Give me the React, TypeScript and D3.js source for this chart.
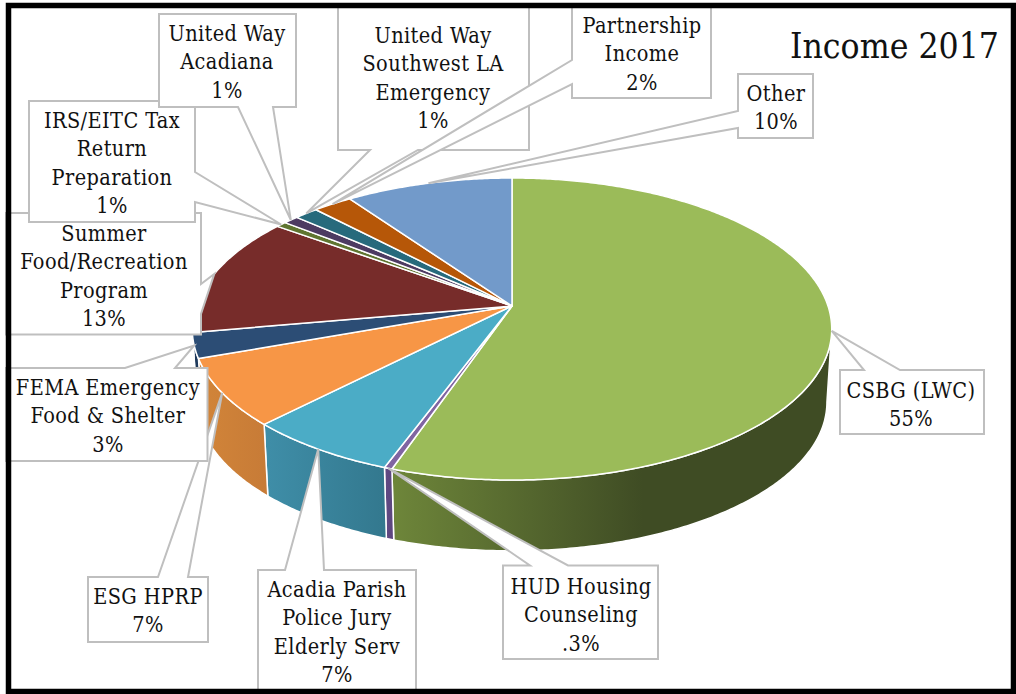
import React, { useEffect, useRef } from "react";
import * as d3 from "d3";

// the labels only give rounded numbers
const categories = [
  "CSBG (LWC)",
  "HUD Housing Counseling",
  "Acadia Parish Police Jury Elderly Serv",
  "ESG HPRP",
  "FEMA Emergency Food & Shelter",
  "Summer Food/Recreation Program",
  "IRS/EITC Tax Return Preparation",
  "United Way Acadiana",
  "United Way Southwest LA Emergency",
  "Partnership Income",
  "Other",
];
const values = [55.3, 0.35, 6.7, 7.2, 2.7, 12.8, 0.6, 0.9, 1.4, 2.3, 9.8];
const percentLabels = ["55%", ".3%", "7%", "7%", "3%", "13%", "1%", "1%", "1%", "2%", "10%"];
const nameLines = [
  ["CSBG (LWC)"],
  ["HUD Housing", "Counseling"],
  ["Acadia Parish", "Police Jury", "Elderly Serv"],
  ["ESG HPRP"],
  ["FEMA Emergency", "Food & Shelter"],
  ["Summer", "Food/Recreation", "Program"],
  ["IRS/EITC Tax", "Return", "Preparation"],
  ["United Way", "Acadiana"],
  ["United Way", "Southwest LA", "Emergency"],
  ["Partnership", "Income"],
  ["Other"],
];
const topColors = ["#9BBB59", "#8064A2", "#4BACC6", "#F79646", "#2C4D75", "#772C2A", "#5F7530", "#4D3B62", "#276A7C", "#B65708", "#729ACA"];
// left/right colours of the side wall (only the front slices show one)
const wallLeft = ["#6E863A", "#614A84", "#3F8EA8", "#D28539", "#1F3A5C", "#772C2A", "#5F7530", "#4D3B62", "#276A7C", "#B65708", "#729ACA"];
const wallRight = ["#3F4C24", "#5C467E", "#33788E", "#C77B37", "#1F3A5C", "#772C2A", "#5F7530", "#4D3B62", "#276A7C", "#B65708", "#729ACA"];
const wallDarkStop = [0.57, 1, 1, 1, 1, 1, 1, 1, 1, 1, 1];

// callout boxes, in the same order as categories
type Callout = {
  x0: number; y0: number; x1: number; y1: number;
  side: "top" | "bottom" | "left" | "right";
  base: [number, number]; // where the pointer leaves the box
  cx: number; baseline: number;
};
const callouts: Callout[] = [
  { x0: 840, y0: 370, x1: 984, y1: 434, side: "top", base: [864, 900], cx: 911, baseline: 398 },
  { x0: 503, y0: 565.5, x1: 658, y1: 659, side: "top", base: [530, 568], cx: 581, baseline: 594 },
  { x0: 258, y0: 570, x1: 416, y1: 692, side: "top", base: [285, 324], cx: 337, baseline: 597 },
  { x0: 88, y0: 577, x1: 208, y1: 642, side: "top", base: [158, 188], cx: 148, baseline: 604 },
  { x0: 6, y0: 368, x1: 207.5, y1: 461, side: "top", base: [125, 175], cx: 108, baseline: 395 },
  { x0: 6, y0: 213, x1: 201, y1: 334.5, side: "right", base: [284, 314], cx: 104, baseline: 241 },
  { x0: 29, y0: 101, x1: 195, y1: 222, side: "right", base: [172, 202], cx: 112, baseline: 128 },
  { x0: 159, y0: 14, x1: 296, y1: 107, side: "bottom", base: [238, 273], cx: 227, baseline: 41 },
  { x0: 338, y0: 4, x1: 529, y1: 150, side: "bottom", base: [370, 418], cx: 433, baseline: 43 },
  { x0: 572, y0: 4, x1: 711, y1: 98, side: "left", base: [60, 84], cx: 642, baseline: 33 },
  { x0: 738, y0: 74, x1: 813, y1: 138, side: "left", base: [111, 128], cx: 776, baseline: 101 },
];

const width = 1016;
const height = 694;
const apex = { x: 512, y: 306 };
const lineHeight = 28.4;
const labelFont = "'DejaVu Serif Condensed', 'DejaVu Serif', serif";

// the pie is tilted away from the viewer, so the plate goes through a perspective
// projection: near rim 174px below the apex, far rim only 128px above it
const persp = 0.1523;
const scaleY = 147.5;
const scaleX = 316;
const wallDrop = 73.5;
const wallShrink = 0.985;
const rightEdge = Math.acos(-persp); // where the rim turns away, seen from above
const leftEdge = Math.PI * 2 - rightEdge;

const topPoint = (angle: number): [number, number] => {
  const u = Math.sin(angle);
  const v = -Math.cos(angle);
  const w = 1 - persp * v;
  return [apex.x + (scaleX * u) / w, apex.y + (scaleY * v) / w];
};
const bottomPoint = (angle: number): [number, number] => {
  const [x, y] = topPoint(angle);
  return [apex.x + (x - apex.x) * wallShrink, apex.y + wallDrop + (y - apex.y) * wallShrink];
};
const arcAngles = (a0: number, a1: number) => {
  const n = Math.max(2, Math.ceil((a1 - a0) / 0.01));
  return d3.range(n + 1).map((i) => a0 + ((a1 - a0) * i) / n);
};

const calloutPath = (c: Callout, tip: [number, number]) => {
  const pts: [number, number][] = [[c.x0, c.y0]];
  if (c.side === "top") pts.push([c.base[0], c.y0], tip, [c.base[1], c.y0]);
  pts.push([c.x1, c.y0]);
  if (c.side === "right") pts.push([c.x1, c.base[0]], tip, [c.x1, c.base[1]]);
  pts.push([c.x1, c.y1]);
  if (c.side === "bottom") pts.push([c.base[1], c.y1], tip, [c.base[0], c.y1]);
  pts.push([c.x0, c.y1]);
  if (c.side === "left") pts.push([c.x0, c.base[1]], tip, [c.x0, c.base[0]]);
  return d3.line()(pts) + "Z";
};

export default function App() {
  const ref = useRef<SVGSVGElement>(null);

  useEffect(() => {
    const svg = d3.select(ref.current);
    svg.selectAll("*").remove();

    const slices = d3.pie<number>().sort(null).startAngle(0).endAngle(Math.PI * 2)(values);
    const line = d3.line();
    const defs = svg.append("defs");

    // side walls first
    slices.forEach((s, i) => {
      const a0 = Math.max(s.startAngle, rightEdge);
      const a1 = Math.min(s.endAngle, leftEdge);
      if (a1 <= a0) return;
      const grad = defs.append("linearGradient").attr("id", `wall-${i}`).attr("x1", 0).attr("x2", 1).attr("y1", 0).attr("y2", 0);
      grad.append("stop").attr("offset", 0).attr("stop-color", wallLeft[i]);
      grad.append("stop").attr("offset", wallDarkStop[i]).attr("stop-color", wallRight[i]);
      const angles = arcAngles(a0, a1);
      const pts = [...angles.map(topPoint), ...angles.slice().reverse().map(bottomPoint)];
      svg.append("path")
        .attr("d", line(pts) + "Z")
        .attr("fill", `url(#wall-${i})`)
        .attr("stroke", "white")
        .attr("stroke-width", 1.5);
    });

    // top of the pie
    slices.forEach((s, i) => {
      const pts: [number, number][] = [[apex.x, apex.y], ...arcAngles(s.startAngle, s.endAngle).map(topPoint)];
      svg.append("path")
        .attr("d", line(pts) + "Z")
        .attr("fill", topColors[i])
        .attr("stroke", "white")
        .attr("stroke-width", 1.5)
        .attr("stroke-linejoin", "round");
    });

    // callouts point at the middle of their slice
    slices.forEach((s, i) => {
      const c = callouts[i];
      const tip = topPoint((s.startAngle + s.endAngle) / 2);
      svg.append("path")
        .attr("d", calloutPath(c, tip))
        .attr("fill", "white")
        .attr("stroke", "#BFBFBF")
        .attr("stroke-width", 2);

      const lines = [...nameLines[i], percentLabels[i]];
      const text = svg.append("text")
        .attr("text-anchor", "middle")
        .attr("font-family", labelFont)
        .attr("font-stretch", "condensed")
        .attr("font-size", 21.5)
        .attr("letter-spacing", 0.4)
        .attr("fill", "#111");
      lines.forEach((l, j) => {
        text.append("tspan").attr("x", c.cx).attr("y", c.baseline + j * lineHeight).text(l);
      });
    });

    svg.append("text")
      .attr("x", 999)
      .attr("y", 58)
      .attr("text-anchor", "end")
      .attr("font-family", labelFont)
      .attr("font-stretch", "condensed")
      .attr("font-size", 35.2)
      .attr("fill", "#111")
      .text("Income 2017");

    // heavy black frame, drawn last so it trims the boxes that run into it
    svg.append("rect")
      .attr("x", 8.5)
      .attr("y", 5.5)
      .attr("width", 1005)
      .attr("height", 686)
      .attr("fill", "none")
      .attr("stroke", "black")
      .attr("stroke-width", 5.5);
  }, []);

  return (
    <svg
      ref={ref}
      width={width}
      height={height}
      role="img"
      aria-label={`Income 2017: ${categories.join(", ")}`}
      style={{ position: "absolute", left: 0, top: 0, display: "block", background: "white" }}
    />
  );
}
